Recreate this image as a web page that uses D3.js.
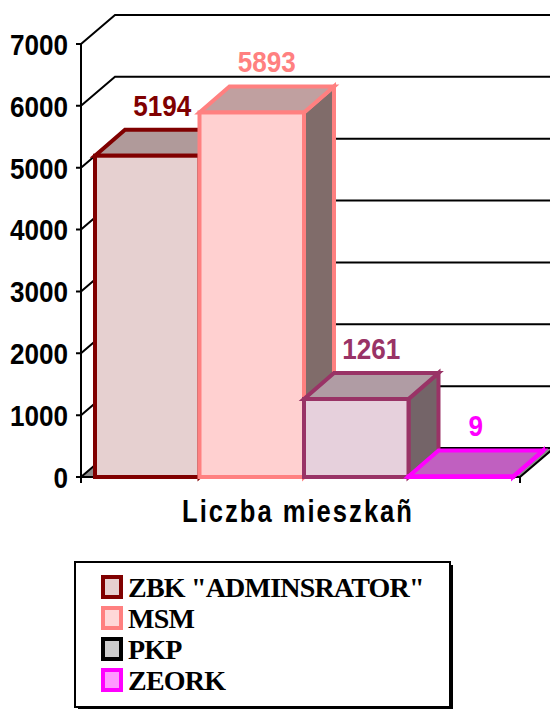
<!DOCTYPE html>
<html>
<head>
<meta charset="utf-8">
<script src="https://cdn.jsdelivr.net/npm/d3@7"></script>
<style>
  body { margin: 0; background: #fff; }
  svg { display: block; }
</style>
</head>
<body>
<svg width="550" height="709"></svg>
<script>
const categories = ['ZBK "ADMINSRATOR"', "MSM", "PKP", "ZEORK"];
const values = [5194, 5893, 1261, 9];
const yTicks = [0, 1000, 2000, 3000, 4000, 5000, 6000, 7000];
const axisTitle = "Liczba mieszkañ";

// bar look: outline, front, top, side
const strokeColors = ["#800000", "#ff8080", "#993366", "#ff00ff"];
const frontColors = ["#e6d0d0", "#ffd0d0", "#e6d0dc", "#ff99ff"];
const topColors = ["#b09a9a", "#c0a0a0", "#b09ca4", "#c060c0"];
const sideColors = ["#806c6a", "#806c6a", "#746468", "#806080"];
const legendFill = ["#e6d0d0", "#ffd8d8", "#cccccc", "#ff99ff"];
const legendStroke = ["#800000", "#ff8080", "#000000", "#ff00ff"];

const svg = d3.select("svg");
const numFont = "'Liberation Sans', Arial, sans-serif";
const narrow = 0.87; // the original font is a condensed sans

const y = d3.scaleLinear().domain([0, 7000]).range([477, 44]);
const x = d3.scaleBand().domain(categories).range([95, 513]).padding(0);

const wall = { x0: 81, x1: 520, dx: 34, dy: -29 };
const depth = { dx: 30, dy: -26 };

const g = svg.append("g");

// floor
g.append("path")
  .attr("d", `M${wall.x0},${y(0)} L${wall.x1},${y(0)} L${wall.x1 + wall.dx},${y(0) + wall.dy} L${wall.x0 + wall.dx},${y(0) + wall.dy} Z`)
  .attr("fill", "#8c8c8c")
  .attr("stroke", "none");
g.append("path")
  .attr("d", `M${wall.x1},${y(0) + 6} L${wall.x1},${y(0)} L${wall.x1 + wall.dx},${y(0) + wall.dy}`)
  .attr("fill", "none")
  .attr("stroke", "#000")
  .attr("stroke-width", 2);

// gridlines on the left and back walls
yTicks.forEach((t) => {
  g.append("path")
    .attr("d", `M${wall.x0 - 5},${y(t)} L${wall.x0},${y(t)} L${wall.x0 + wall.dx},${y(t) + wall.dy} L560,${y(t) + wall.dy}`)
    .attr("fill", "none")
    .attr("stroke", "#000")
    .attr("stroke-width", 2);
});
g.append("line")
  .attr("x1", wall.x0).attr("x2", wall.x0)
  .attr("y1", y(7000)).attr("y2", y(0) + 6)
  .attr("stroke", "#000").attr("stroke-width", 2);
g.append("line")
  .attr("x1", wall.x0).attr("x2", wall.x1)
  .attr("y1", y(0)).attr("y2", y(0))
  .attr("stroke", "#000").attr("stroke-width", 2);

// tick labels
g.selectAll(".ytick")
  .data(yTicks)
  .enter()
  .append("text")
  .attr("class", "ytick")
  .attr("transform", (d) => `translate(68, ${y(d)}) scale(${narrow}, 1)`)
  .attr("dy", "0.36em")
  .attr("text-anchor", "end")
  .attr("font-family", numFont)
  .attr("font-weight", "bold")
  .attr("font-size", 30)
  .text((d) => d);

// bars
const bars = g.selectAll(".bar")
  .data(values)
  .enter()
  .append("g")
  .attr("class", "bar");

bars.each(function (v, i) {
  const b = d3.select(this);
  const x0 = x(categories[i]);
  const x1 = x0 + x.bandwidth();
  const yt = y(v);
  const yb = y(0);
  const sw = 4;
  b.append("path")
    .attr("d", `M${x1},${yb} L${x1 + depth.dx},${yb + depth.dy} L${x1 + depth.dx},${yt + depth.dy} L${x1},${yt} Z`)
    .attr("fill", sideColors[i])
    .attr("stroke", strokeColors[i])
    .attr("stroke-width", sw);
  b.append("path")
    .attr("d", `M${x0},${yt} L${x0 + depth.dx},${yt + depth.dy} L${x1 + depth.dx},${yt + depth.dy} L${x1},${yt} Z`)
    .attr("fill", topColors[i])
    .attr("stroke", strokeColors[i])
    .attr("stroke-width", sw);
  b.append("rect")
    .attr("x", x0)
    .attr("y", yt)
    .attr("width", x.bandwidth())
    .attr("height", Math.max(0, yb - yt))
    .attr("fill", frontColors[i])
    .attr("stroke", strokeColors[i])
    .attr("stroke-width", sw);
});

// value labels
g.selectAll(".vlabel")
  .data(values)
  .enter()
  .append("text")
  .attr("class", "vlabel")
  .attr("transform", (d, i) => {
    const cx = x(categories[i]) + x.bandwidth() / 2 + depth.dx / 2;
    return `translate(${cx}, ${y(d) + depth.dy - 14}) scale(${narrow}, 1)`;
  })
  .attr("text-anchor", "middle")
  .attr("font-family", numFont)
  .attr("font-weight", "bold")
  .attr("font-size", 30)
  .attr("fill", (d, i) => strokeColors[i])
  .text((d) => d);

// axis title
svg.append("text")
  .attr("transform", "translate(298, 522) scale(0.8, 1)")
  .attr("text-anchor", "middle")
  .attr("font-family", numFont)
  .attr("font-weight", "bold")
  .attr("font-size", 32)
  .attr("letter-spacing", 2.5)
  .text(axisTitle);

// legend
const lg = svg.append("g");
lg.append("rect")
  .attr("x", 78).attr("y", 565).attr("width", 375).attr("height", 145)
  .attr("fill", "#000");
lg.append("rect")
  .attr("x", 75).attr("y", 562).attr("width", 375).attr("height", 145)
  .attr("fill", "#fff").attr("stroke", "#000").attr("stroke-width", 2);

const items = lg.selectAll(".item")
  .data(categories)
  .enter()
  .append("g")
  .attr("class", "item")
  .attr("transform", (d, i) => `translate(0, ${587 + i * 31})`);

items.append("rect")
  .attr("x", 103).attr("y", -10).attr("width", 18).attr("height", 20)
  .attr("fill", (d, i) => legendFill[i])
  .attr("stroke", (d, i) => legendStroke[i])
  .attr("stroke-width", 4);

items.append("text")
  .attr("x", 128)
  .attr("y", 10)
  .attr("font-family", "'Liberation Serif', 'Times New Roman', serif")
  .attr("font-weight", "bold")
  .attr("font-size", 28)
  .attr("letter-spacing", -0.8)
  .text((d) => d);
</script>
</body>
</html>
